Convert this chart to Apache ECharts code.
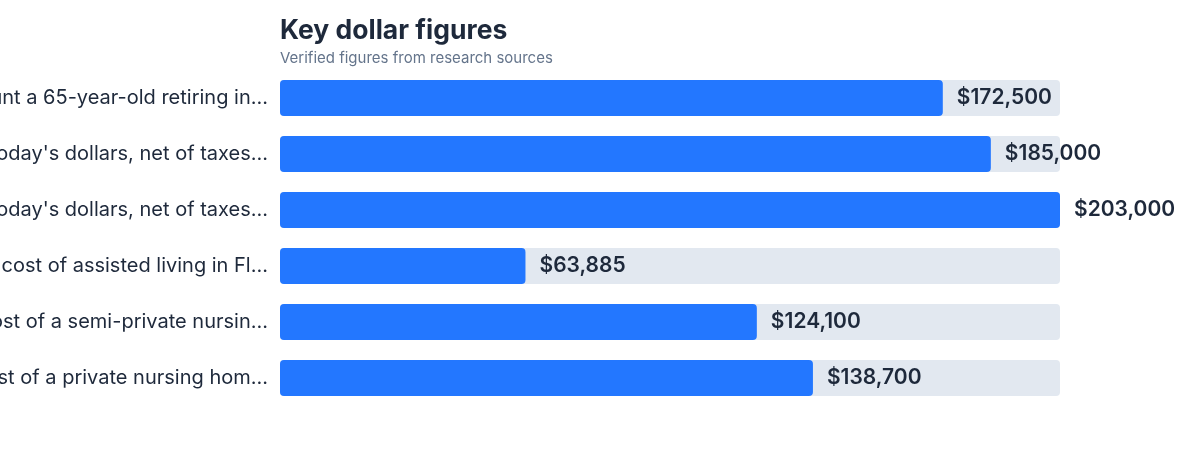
<!DOCTYPE html>
<html>
<head>
<meta charset="utf-8">
<script src="https://cdn.jsdelivr.net/npm/echarts@6/dist/echarts.min.js"></script>
<style>
  html, body { margin: 0; padding: 0; background: #fff; }
  #chart { width: 1200px; height: 456px; }
</style>
</head>
<body>
<div id="chart"></div>
<script>
// 数据 (labels are already cut off in the source picture)
var categories = [
    "Fidelity's estimate of the amount a 65-year-old retiring in...",
    "Healthcare savings needed for a couple, in today's dollars, net of taxes...",
    "Healthcare savings needed for a single woman, in today's dollars, net of taxes...",
    "Annual median cost of assisted living in Fl...",
    "Annual median cost of a semi-private nursin...",
    "Annual median cost of a private nursing hom..."
];
var values = [172500, 185000, 203000, 63885, 124100, 138700];
var xMax = 203000;

function money(v) {
    return '$' + v.toString().replace(/\B(?=(\d{3})+(?!\d))/g, ',');
}

var myChart = echarts.init(document.getElementById('chart'));

var option = {
    textStyle: { fontFamily: 'Inter' },
    title: {
        text: 'Key dollar figures',
        subtext: 'Verified figures from research sources',
        left: 280,
        top: 18,
        padding: 0,
        itemGap: 6,
        textStyle: { fontFamily: 'Inter', fontSize: 26.5, fontWeight: 700, color: '#1e293b' },
        subtextStyle: { fontFamily: 'Inter', fontSize: 15, color: '#64748b' }
    },
    grid: { left: 280, right: 140, top: 70, bottom: 50, containLabel: false, outerBoundsMode: 'none' },
    xAxis: {
        type: 'value',
        min: 0,
        max: xMax,
        show: false
    },
    yAxis: {
        type: 'category',
        inverse: true,
        data: categories,
        axisLine: { show: false },
        axisTick: { show: false },
        axisLabel: {
            margin: 12,
            fontFamily: 'Inter',
            fontSize: 20,
            color: '#1e293b'
        }
    },
    series: [{
        type: 'bar',
        data: values,
        barWidth: 36,
        showBackground: true,
        backgroundStyle: { color: '#e2e8f0', borderRadius: 4 },
        itemStyle: { color: '#2377ff', borderRadius: 4 },
        label: {
            show: true,
            position: 'right',
            distance: 14,
            fontFamily: 'Inter',
            fontSize: 21,
            fontWeight: 600,
            color: '#1e293b',
            formatter: function (p) { return money(p.value); }
        }
    }]
};

myChart.setOption(option);
</script>
</body>
</html>
